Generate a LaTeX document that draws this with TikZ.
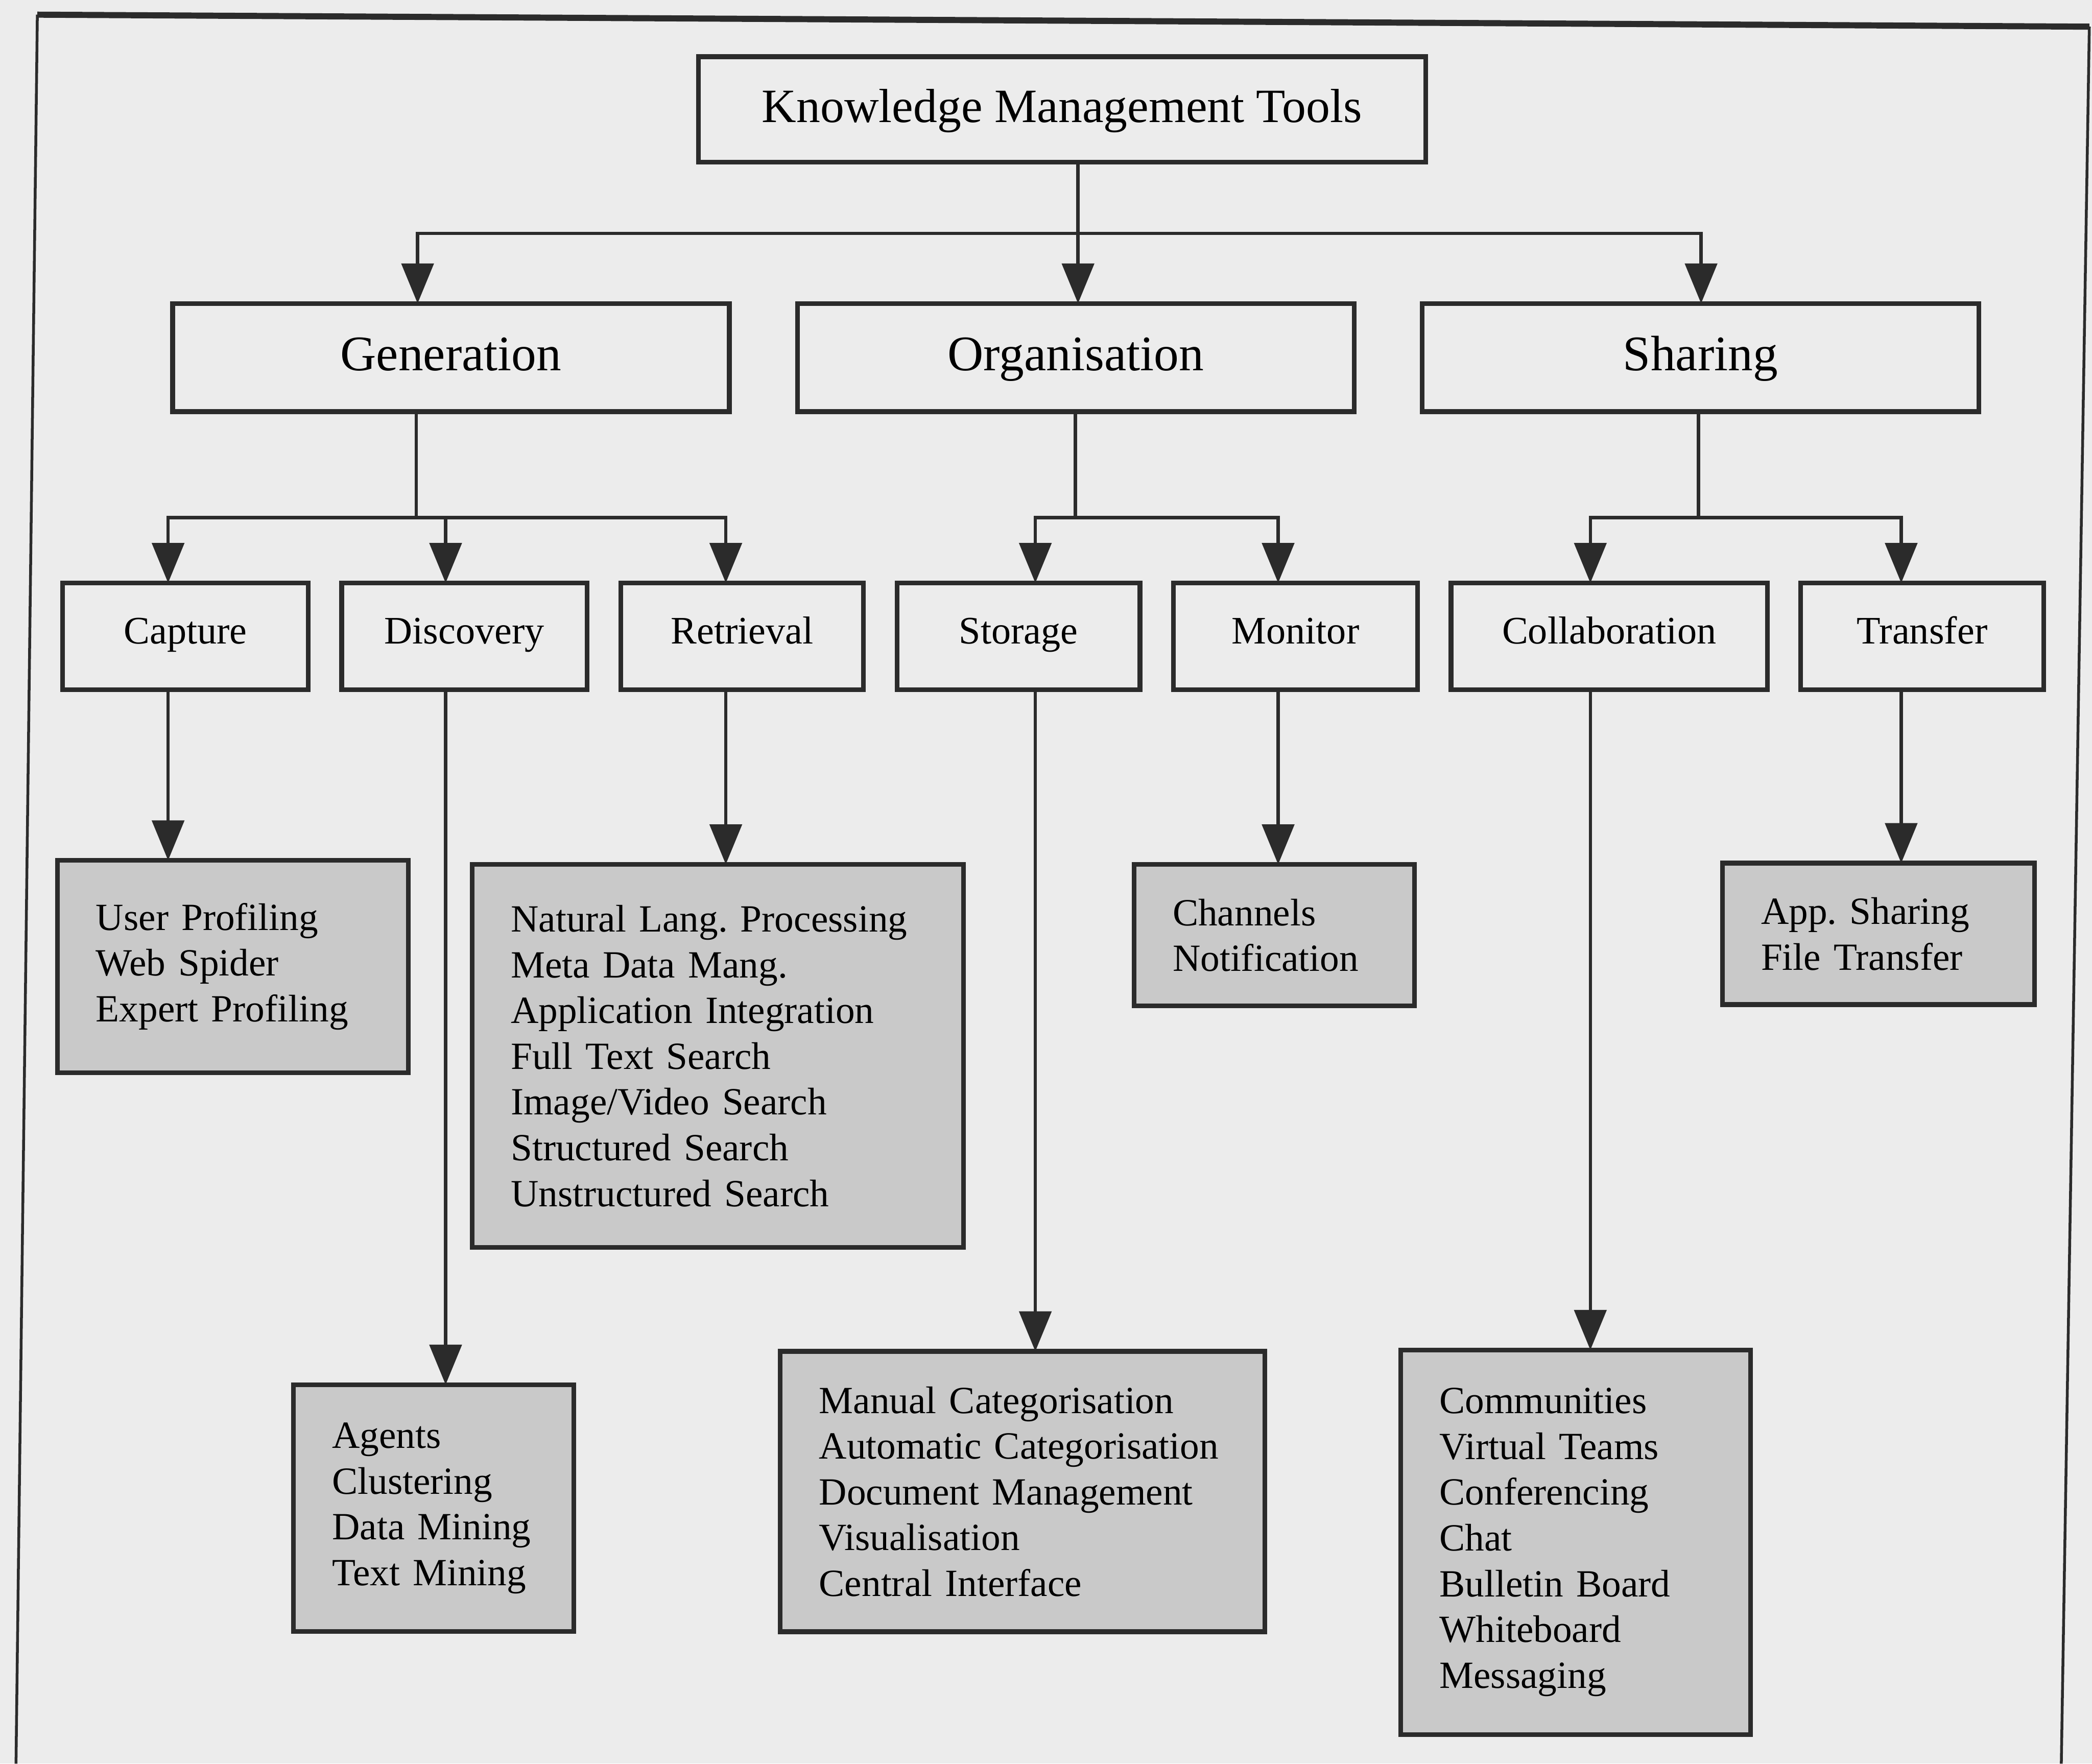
\documentclass[tikz,border=0pt]{standalone}
\usepackage{fontspec}
\setmainfont{Liberation Serif}
\usetikzlibrary{arrows.meta, positioning}
\frenchspacing

\definecolor{pagebg}{gray}{0.925}
\definecolor{leafgray}{gray}{0.79}
\definecolor{ink}{gray}{0.17}

\begin{document}
\begin{tikzpicture}[
    % One unit = one pixel of the scanned page, y pointing down
    x={(0.01cm,0cm)},
    y={(0cm,-0.01cm)},
    >={Triangle[length=3mm, width=2.4mm]},
    box/.style={draw=ink, line width=1pt, inner sep=0pt, outer sep=0pt},
    topbox/.style={box, minimum width=5.45cm, minimum height=0.79cm,
        text height=1.7ex, text depth=0.5ex, font=\fontsize{10.2}{12}\selectfont},
    mainbox/.style={box, minimum width=4.17cm, minimum height=0.81cm,
        text height=1.7ex, text depth=0.5ex, font=\fontsize{10.6}{12}\selectfont},
    subbox/.style={box, minimum height=0.8cm, text height=1.75ex, text depth=1.05ex,
        font=\fontsize{8.3}{10}\selectfont},
    leaf/.style={box, fill=leafgray, inner xsep=0.29cm, align=left,
        font=\fontsize{8.2}{9.75}\selectfont,
        execute at begin node={\hyphenpenalty=10000}},
    link/.style={draw=ink, line width=0.7pt, line cap=rect},
    arr/.style={draw=ink, line width=0.7pt, ->}
]
    % --- Page and frame ---
    \fill[pagebg] (0,0) rectangle (1568,1322);
    \useasboundingbox (0,0) rectangle (1568,1322);
    \draw[ink, line width=1.3pt] (28,11) -- (1566,20);
    \draw[ink, line width=0.6pt] (28,11) -- (12,1322);
    \draw[ink, line width=0.6pt] (1566,20) -- (1545,1322);

    % --- Top level ---
    \node[topbox] (kmt) at (796,82) {Knowledge Management Tools};

    % --- Main categories ---
    \node[mainbox] (gen) at (338,268) {Generation};
    \node[mainbox, right=0.51cm of gen] (org) {Organisation};
    \node[mainbox, right=0.51cm of org] (shr) {Sharing};

    % --- Sub categories ---
    \node[subbox, minimum width=1.84cm] (cap) at (139,477) {Capture};
    \node[subbox, minimum width=1.84cm, right=0.25cm of cap] (dis) {Discovery};
    \node[subbox, minimum width=1.82cm, right=0.25cm of dis] (ret) {Retrieval};
    \node[subbox, minimum width=1.82cm, right=0.25cm of ret] (sto) {Storage};
    \node[subbox, minimum width=1.83cm, right=0.25cm of sto] (mon) {Monitor};
    \node[subbox, minimum width=2.37cm, right=0.25cm of mon] (colb) {Collaboration};
    \node[subbox, minimum width=1.82cm, right=0.25cm of colb] (tra) {Transfer};

    % --- Tool lists ---
    \node[leaf, text width=2.05cm, minimum height=1.59cm] (upro) at (174.5,724.5)
        {User Profiling\\Web Spider\\Expert Profiling};
    \node[leaf, text width=3.10cm, minimum height=2.87cm] (nlp) at (538,791.5)
        {Natural Lang. Processing\\Meta Data Mang.\\Application Integration\\
         Full Text Search\\Image/Video Search\\Structured Search\\Unstructured Search};
    \node[leaf, text width=1.52cm, minimum height=1.06cm] (chan) at (955,701)
        {Channels\\Notification};
    \node[leaf, text width=1.76cm, minimum height=1.06cm] (app) at (1408,700)
        {App. Sharing\\File Transfer};
    \node[leaf, text width=1.52cm, minimum height=1.85cm] (agents) at (325,1130.5)
        {Agents\\Clustering\\Data Mining\\Text Mining};
    \node[leaf, text width=3.05cm, minimum height=2.10cm] (manual) at (766.5,1118)
        {Manual Categorisation\\Automatic Categorisation\\Document Management\\
         Visualisation\\Central Interface};
    \node[leaf, text width=2.04cm, minimum height=2.88cm] (comm) at (1181,1156)
        {Communities\\Virtual Teams\\Conferencing\\Chat\\Bulletin Board\\
         Whiteboard\\Messaging};

    % --- Connectors: top level ---
    \coordinate (kGen) at (313,175);
    \coordinate (kOrg) at (808,175);
    \coordinate (kShr) at (1275,175);
    \draw[link] (kmt.south -| kOrg) -- (kOrg);
    \draw[link] (kGen) -- (kShr);
    \foreach \c/\n in {kGen/gen, kOrg/org, kShr/shr}
        \draw[arr] (\c) -- (\n.north -| \c);

    % --- Connectors: second level ---
    \coordinate (gBus) at (312,388);
    \coordinate (bCap) at (126,388);
    \coordinate (bDis) at (334,388);
    \coordinate (bRet) at (544,388);
    \coordinate (oBus) at (806,388);
    \coordinate (bSto) at (776,388);
    \coordinate (bMon) at (958,388);
    \coordinate (sBus) at (1273,388);
    \coordinate (bCol) at (1192,388);
    \coordinate (bTra) at (1425,388);
    \draw[link] (gen.south -| gBus) -- (gBus);
    \draw[link] (bCap) -- (bRet);
    \draw[link] (org.south -| oBus) -- (oBus);
    \draw[link] (bSto) -- (bMon);
    \draw[link] (shr.south -| sBus) -- (sBus);
    \draw[link] (bCol) -- (bTra);
    \foreach \c/\n in {bCap/cap, bDis/dis, bRet/ret, bSto/sto, bMon/mon, bCol/colb, bTra/tra}
        \draw[arr] (\c) -- (\n.north -| \c);

    % --- Connectors: tool lists ---
    \foreach \c/\p/\n in {bCap/cap/upro, bDis/dis/agents, bRet/ret/nlp, bSto/sto/manual,
                          bMon/mon/chan, bCol/colb/comm, bTra/tra/app}
        \draw[arr] (\p.south -| \c) -- (\n.north -| \c);
\end{tikzpicture}
\end{document}
